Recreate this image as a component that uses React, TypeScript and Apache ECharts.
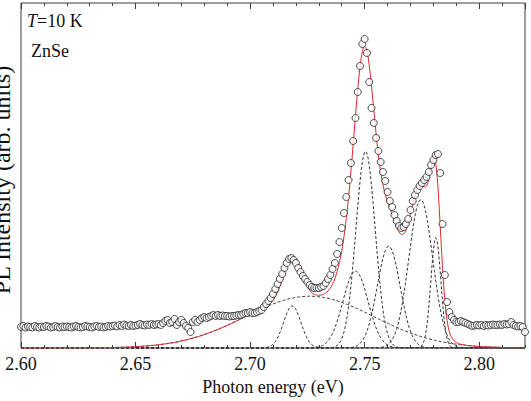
import React, { useEffect, useRef } from "react";
import * as echarts from "echarts";

// Measured PL spectrum: photon energy grid and intensity (arb. units)
const E_START = 2.6;
const E_STEP = 0.001;
const intensity = [
  6.09, 6.38, 5.94, 6.23, 6.09, 5.94, 6.38, 6.09, 5.94, 6.23,
  6.09, 6.38, 6.23, 5.94, 6.09, 6.38, 6.09, 5.94, 6.23, 6.09,
  6.23, 6.09, 5.94, 6.23, 6.38, 6.09, 5.94, 6.09, 6.38, 6.23,
  6.09, 5.94, 6.23, 6.38, 6.09, 6.23, 5.94, 6.09, 6.38, 6.23,
  6.38, 6.52, 6.23, 6.67, 6.38, 6.81, 6.52, 6.38, 6.67, 6.38,
  6.52, 6.67, 6.96, 6.67, 6.52, 6.81, 6.67, 6.96, 6.67, 6.81,
  6.96, 6.67, 7.25, 7.83, 8.12, 7.25, 7.54, 8.41, 6.67, 7.54,
  8.12, 7.25, 6.38, 5.8, 4.64, 7.54, 8.12, 7.54, 8.12, 8.7,
  8.99, 8.7, 8.99, 9.28, 9.57, 9.28, 9.57, 9.28, 9.42, 9.28,
  9.28, 9.13, 9.28, 9.28, 9.42, 9.57, 9.57, 9.86, 10.14, 10.14,
  10.43, 10.14, 10.14, 10.43, 10.72, 11.01, 11.88, 12.75, 13.62, 14.49,
  15.65, 17.1, 18.55, 20.0, 21.45, 23.19, 24.64, 25.8, 26.09, 25.51,
  24.64, 23.19, 22.03, 20.87, 20.0, 19.13, 18.26, 17.68, 17.39, 17.39,
  17.39, 17.68, 17.97, 18.84, 20.0, 21.16, 22.9, 24.64, 27.25, 30.72,
  34.78, 39.13, 43.77, 48.7, 53.62, 60.0, 66.67, 74.2, 81.74, 88.12,
  89.57, 85.51, 77.1, 69.57, 65.22, 60.87, 57.1, 53.91, 51.01, 48.41,
  45.22, 42.61, 40.87, 38.55, 36.81, 35.36, 34.78, 35.07, 35.94, 37.39,
  40.0, 42.61, 44.35, 45.8, 46.96, 47.83, 48.7, 49.57, 51.01, 53.04,
  54.49, 55.94, 56.23, 50.72, 35.94, 21.16, 13.33, 10.43, 8.99, 8.12,
  7.54, 7.54, 7.83, 7.54, 7.25, 6.96, 6.67, 6.38, 6.52, 6.67,
  6.52, 6.67, 6.38, 6.67, 6.52, 6.67, 6.81, 6.67, 6.67, 6.81,
  6.67, 6.96, 6.81, 6.96, 7.54, 6.67, 6.38, 6.23, 6.38, 6.09, 4.64,
];

// Gaussian components of the line-shape fit
const peakCenters = [2.726, 2.7184, 2.746, 2.7504, 2.7605, 2.7745, 2.7811];
const peakHeights = [15, 12.2, 22.3, 57, 29.5, 43, 32];
const peakWidths = [0.028, 0.0038, 0.0055, 0.0042, 0.005, 0.0052, 0.0022];

// Axis extents and tick values
const X_MIN = 2.6;
const X_MAX = 2.82;
const MAJOR_STEP = 0.05;
const MINOR_STEP = 0.01;
const majorLabels = ["2.60", "2.65", "2.70", "2.75", "2.80"];

const FIT_STEP = 0.0005;
const SERIF = "Liberation Serif";
const FRAME = "#3a3a3a";
const INK = "#111";

function gaussian(x: number, c: number, h: number, s: number) {
  return h * Math.exp(-((x - c) * (x - c)) / (2 * s * s));
}

export default function App() {
  const ref = useRef<HTMLDivElement>(null);

  useEffect(() => {
    if (!ref.current) return;
    const chart = echarts.init(ref.current, undefined, { renderer: "svg" });

    const measured = intensity.map((v, i) => [
      +(E_START + i * E_STEP).toFixed(4),
      v,
    ]);

    const nFit = Math.round((X_MAX - X_MIN) / FIT_STEP) + 1;
    const fitX: number[] = [];
    for (let k = 0; k < nFit; k++) fitX.push(+(X_MIN + k * FIT_STEP).toFixed(5));

    const components = peakCenters.map((c, j) =>
      fitX.map((x) => [x, gaussian(x, c, peakHeights[j], peakWidths[j])])
    );
    const total = fitX.map((x, k) => [
      x,
      components.reduce((acc, comp) => acc + (comp[k][1] as number), 0),
    ]);

    const tickAxis = (
      grid: number,
      position: "top" | "bottom",
      step: number,
      len: number,
      labels: boolean
    ) => ({
      type: "value" as const,
      gridIndex: grid,
      position,
      min: X_MIN,
      max: X_MAX,
      interval: step,
      axisLine: { show: false },
      splitLine: { show: false },
      axisTick: {
        show: true,
        inside: true,
        length: len,
        lineStyle: { color: FRAME, width: 1 },
      },
      axisLabel: labels
        ? {
            show: true,
            showMaxLabel: false,
            margin: 7,
            color: INK,
            fontFamily: SERIF,
            fontSize: 18,
            formatter: (v: number) => {
              const s = v.toFixed(2);
              return majorLabels.includes(s) ? s : "";
            },
          }
        : { show: false },
      ...(labels
        ? {
            name: "Photon energy (eV)",
            nameLocation: "middle" as const,
            nameGap: 25,
            nameTextStyle: { color: INK, fontFamily: SERIF, fontSize: 18 },
          }
        : {}),
    });

    const gridPos = { left: 21, right: 6, top: 3, bottom: 53 };

    chart.setOption({
      animation: false,
      backgroundColor: "#fff",
      textStyle: { fontFamily: SERIF },
      grid: [
        { ...gridPos, show: true, borderColor: FRAME, borderWidth: 1, backgroundColor: "transparent" },
        { ...gridPos, show: false },
      ],
      xAxis: [
        tickAxis(0, "bottom", MAJOR_STEP, 6, true),
        tickAxis(0, "top", MAJOR_STEP, 6, false),
        tickAxis(1, "bottom", MINOR_STEP, 3, false),
        tickAxis(1, "top", MINOR_STEP, 3, false),
      ],
      yAxis: [
        { type: "value", gridIndex: 0, min: 0, max: 100, show: false },
        { type: "value", gridIndex: 1, min: 0, max: 100, show: false },
      ],
      graphic: [
        {
          type: "text",
          x: 27,
          y: 20.6,
          style: {
            text: "{i|T}=10 K",
            fill: INK,
            fontFamily: SERIF,
            fontSize: 18,
            verticalAlign: "middle",
            rich: {
              i: { fontStyle: "italic", fontFamily: SERIF, fontSize: 18, fill: INK },
            },
          },
        },
        {
          type: "text",
          x: 31,
          y: 50.6,
          style: {
            text: "ZnSe",
            fill: INK,
            fontFamily: SERIF,
            fontSize: 18,
            verticalAlign: "middle",
          },
        },
        {
          type: "text",
          x: 1.5,
          y: 180,
          rotation: Math.PI / 2,
          style: {
            text: "PL Intensity (arb. units)",
            fill: INK,
            fontFamily: SERIF,
            fontSize: 24,
            align: "center",
            verticalAlign: "middle",
          },
        },
      ],
      series: [
        ...components.map((comp) => ({
          type: "line" as const,
          xAxisIndex: 0,
          yAxisIndex: 0,
          data: comp,
          showSymbol: false,
          symbol: "none",
          silent: true,
          z: 1,
          lineStyle: { color: "#333", width: 1, type: [3, 2] as number[] },
        })),
        {
          type: "line",
          xAxisIndex: 0,
          yAxisIndex: 0,
          data: total,
          showSymbol: false,
          symbol: "none",
          silent: true,
          z: 2,
          lineStyle: { color: "#e0282c", width: 1 },
        },
        {
          type: "scatter",
          xAxisIndex: 0,
          yAxisIndex: 0,
          data: measured,
          symbol: "circle",
          symbolSize: 7,
          clip: false,
          silent: true,
          z: 3,
          itemStyle: { color: "#fff", borderColor: "#222", borderWidth: 1 },
        },
      ],
    });

    return () => chart.dispose();
  }, []);

  return (
    <div
      ref={ref}
      style={{ position: "fixed", left: 0, top: 0, width: 531, height: 401 }}
    />
  );
}
